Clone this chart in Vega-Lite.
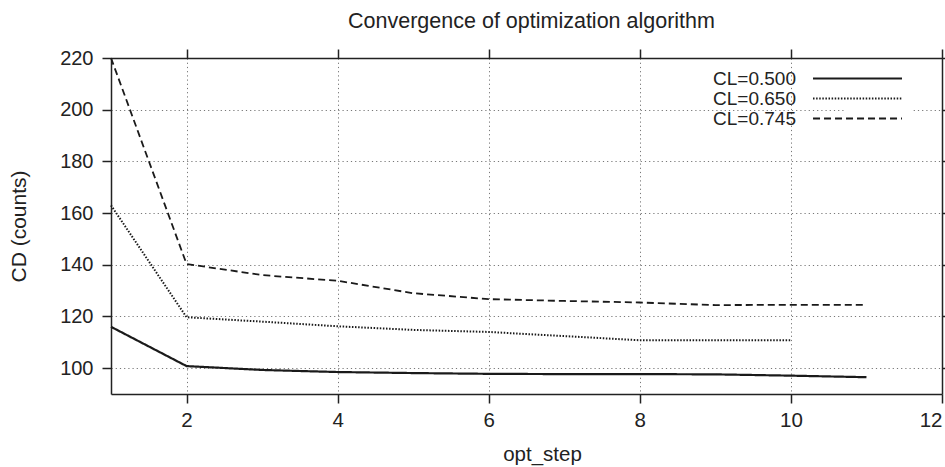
{
  "$schema": "https://vega.github.io/schema/vega-lite/v6.json",
  "autosize": "none",
  "width": 831,
  "height": 336,
  "padding": {"left": 111, "top": 58, "right": 3, "bottom": 73},
  "background": "white",
  "title": {
    "text": "Convergence of optimization algorithm",
    "font": "Liberation Sans",
    "fontSize": 21.5,
    "fontWeight": "normal",
    "color": "#222",
    "anchor": "middle",
    "dx": 5,
    "offset": 16
  },
  "config": {
    "view": {"stroke": null},
    "axis": {
      "labelFont": "Liberation Sans",
      "titleFont": "Liberation Sans",
      "labelColor": "#222",
      "titleColor": "#222",
      "titleFontWeight": "normal",
      "domainColor": "#222",
      "domainWidth": 1.5,
      "tickColor": "#222",
      "tickWidth": 1.5,
      "tickSize": 9,
      "gridColor": "#777",
      "gridDash": [1.2, 3],
      "gridWidth": 1
    }
  },
  "data": {
    "values": [
      {"step": 1, "cd": 116, "series": "CL=0.500"},
      {"step": 2, "cd": 100.8, "series": "CL=0.500"},
      {"step": 3, "cd": 99.3, "series": "CL=0.500"},
      {"step": 4, "cd": 98.5, "series": "CL=0.500"},
      {"step": 5, "cd": 98.1, "series": "CL=0.500"},
      {"step": 6, "cd": 97.8, "series": "CL=0.500"},
      {"step": 7, "cd": 97.7, "series": "CL=0.500"},
      {"step": 8, "cd": 97.7, "series": "CL=0.500"},
      {"step": 9, "cd": 97.6, "series": "CL=0.500"},
      {"step": 10, "cd": 97.1, "series": "CL=0.500"},
      {"step": 11, "cd": 96.5, "series": "CL=0.500"},
      {"step": 1, "cd": 163, "series": "CL=0.650"},
      {"step": 2, "cd": 119.7, "series": "CL=0.650"},
      {"step": 3, "cd": 118, "series": "CL=0.650"},
      {"step": 4, "cd": 116.2, "series": "CL=0.650"},
      {"step": 5, "cd": 114.8, "series": "CL=0.650"},
      {"step": 6, "cd": 114, "series": "CL=0.650"},
      {"step": 7, "cd": 112.4, "series": "CL=0.650"},
      {"step": 8, "cd": 110.8, "series": "CL=0.650"},
      {"step": 9, "cd": 110.8, "series": "CL=0.650"},
      {"step": 10, "cd": 110.8, "series": "CL=0.650"},
      {"step": 1, "cd": 220, "series": "CL=0.745"},
      {"step": 2, "cd": 140.3, "series": "CL=0.745"},
      {"step": 3, "cd": 136, "series": "CL=0.745"},
      {"step": 4, "cd": 133.8, "series": "CL=0.745"},
      {"step": 5, "cd": 129, "series": "CL=0.745"},
      {"step": 6, "cd": 126.7, "series": "CL=0.745"},
      {"step": 7, "cd": 126, "series": "CL=0.745"},
      {"step": 8, "cd": 125.4, "series": "CL=0.745"},
      {"step": 9, "cd": 124.4, "series": "CL=0.745"},
      {"step": 10, "cd": 124.5, "series": "CL=0.745"},
      {"step": 11, "cd": 124.5, "series": "CL=0.745"}
    ]
  },
  "layer": [
    {
      "mark": {"type": "line", "color": "#1a1a1a", "strokeCap": "butt"},
      "encoding": {
        "x": {
          "field": "step",
          "type": "quantitative",
          "scale": {"domain": [1, 12], "nice": false, "zero": false},
          "axis": {
            "title": "opt_step",
            "values": [2, 4, 6, 8, 10, 12],
            "labelFontSize": 20.5,
            "labelPadding": 7,
            "titleFontSize": 20.5,
            "titleX": 431,
            "titleY": 66,
            "titleBaseline": "alphabetic",
            "titleAlign": "center",
            "grid": true
          }
        },
        "y": {
          "field": "cd",
          "type": "quantitative",
          "scale": {"domain": [90, 220], "nice": false, "zero": false},
          "axis": {
            "title": "CD (counts)",
            "values": [100, 120, 140, 160, 180, 200, 220],
            "labelFontSize": 20,
            "labelPadding": 9,
            "titleFontSize": 21,
            "titlePadding": 30,
            "grid": true
          }
        },
        "strokeDash": {
          "field": "series",
          "type": "nominal",
          "scale": {
            "domain": ["CL=0.500", "CL=0.650", "CL=0.745"],
            "range": [[1, 0], [1.5, 1.6], [7, 4]]
          },
          "legend": {
            "title": null,
            "orient": "none",
            "legendX": 733,
            "legendY": 7,
            "symbolType": "M-5.56,0H5.56",
            "symbolSize": 256,
            "symbolStrokeColor": "#1a1a1a",
            "symbolStrokeWidth": 2,
            "labelAlign": "right",
            "labelOffset": -71,
            "labelFont": "Liberation Sans",
            "labelFontSize": 19,
            "labelColor": "#222",
            "rowPadding": 0,
            "fillColor": "white",
            "padding": 4
          }
        },
        "strokeWidth": {
          "field": "series",
          "type": "nominal",
          "scale": {
            "domain": ["CL=0.500", "CL=0.650", "CL=0.745"],
            "range": [2.2, 1.8, 2.4]
          },
          "legend": null
        }
      }
    },
    {
      "mark": {"type": "line", "opacity": 0},
      "encoding": {
        "x": {
          "field": "step",
          "type": "quantitative",
          "axis": {"orient": "top", "title": null, "labels": false, "grid": false, "values": [2, 4, 6, 8, 10, 12]}
        },
        "y": {
          "field": "cd",
          "type": "quantitative",
          "axis": {"orient": "right", "title": null, "labels": false, "grid": false, "values": [100, 120, 140, 160, 180, 200, 220]}
        },
        "detail": {"field": "series"}
      }
    }
  ],
  "resolve": {"axis": {"x": "independent", "y": "independent"}}
}
